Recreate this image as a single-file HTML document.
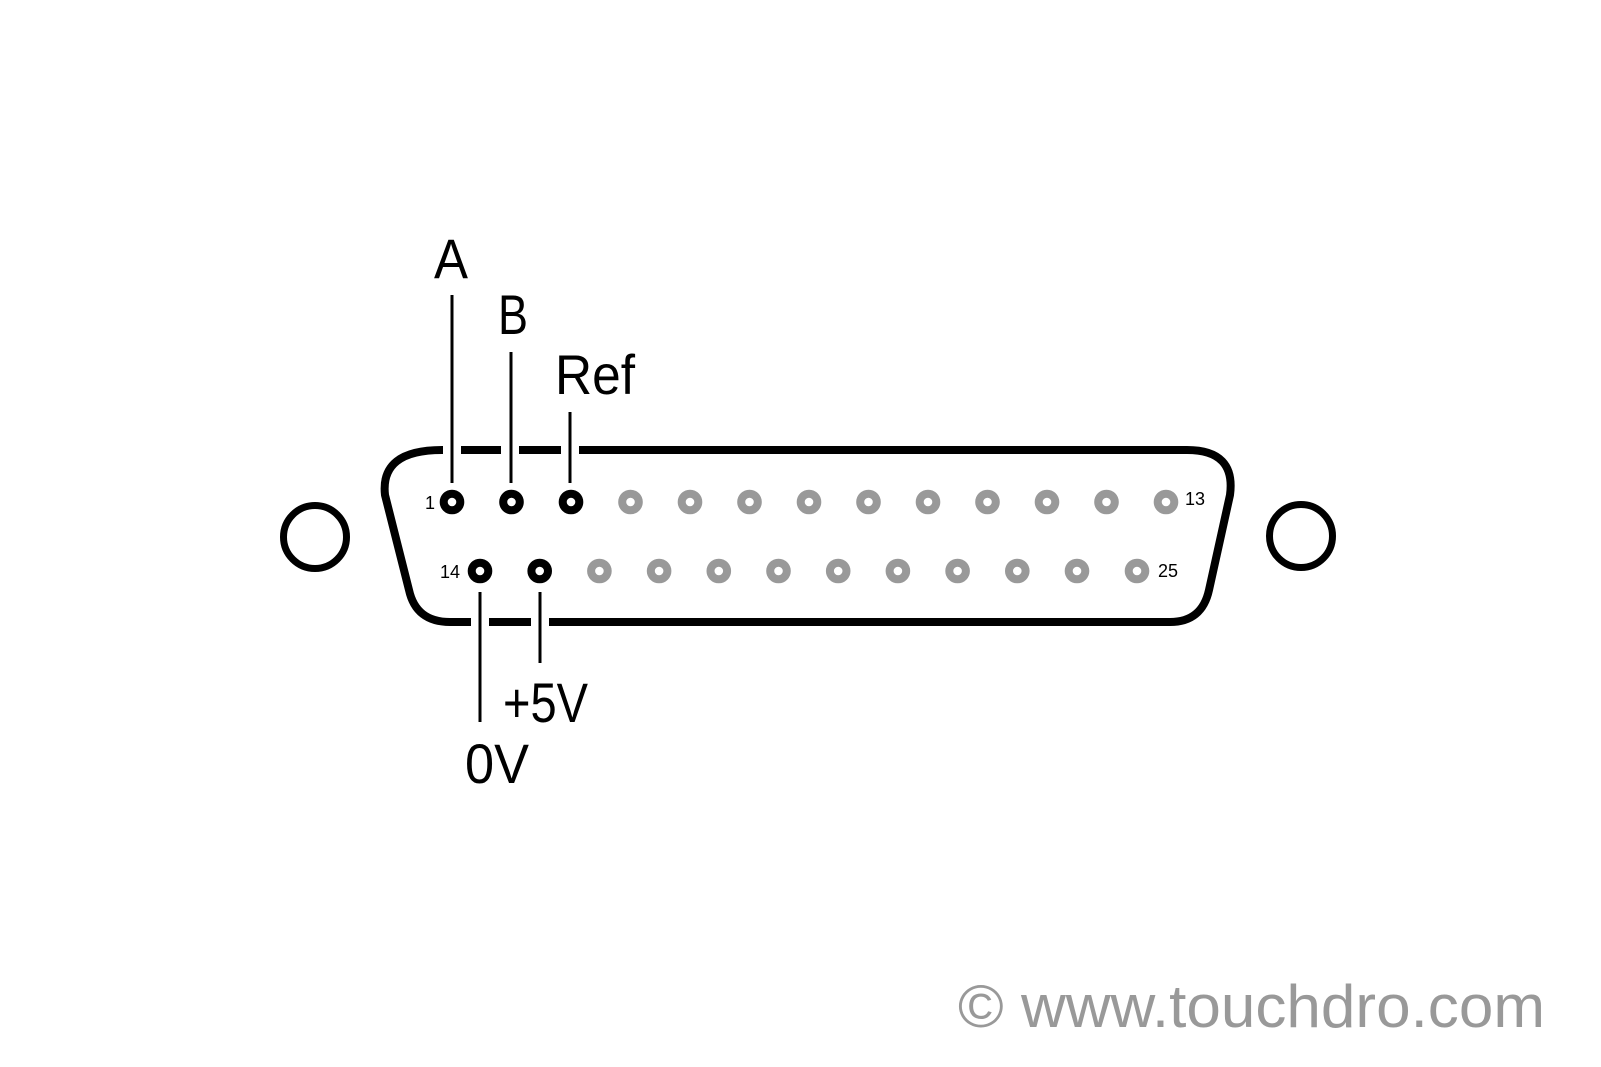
<!DOCTYPE html>
<html><head><meta charset="utf-8"><style>html,body{margin:0;padding:0;background:#fff}svg{display:block}</style></head>
<body>
<svg width="1601" height="1067" viewBox="0 0 1601 1067" xmlns="http://www.w3.org/2000/svg" font-family="Liberation Sans, sans-serif">
<rect width="1601" height="1067" fill="#fff"/>
<!-- shell -->
<path d="M442,450 L1187,450 Q1236,450 1230,495 L1209,590 Q1202,622 1170,622 L450,622 Q416,622 409,590 L385,495 Q380,450 442,450 Z" fill="none" stroke="#000" stroke-width="8" stroke-linejoin="round"/>
<!-- gaps -->
<g fill="#fff">
<rect x="443" y="444" width="18" height="12"/>
<rect x="501" y="444" width="18" height="12"/>
<rect x="561" y="444" width="18" height="12"/>
<rect x="471" y="616" width="18" height="12"/>
<rect x="531" y="616" width="18" height="12"/>
</g>
<!-- leaders -->
<g stroke="#000" stroke-width="3">
<line x1="452" y1="295" x2="452" y2="483"/>
<line x1="511" y1="352" x2="511" y2="483"/>
<line x1="570" y1="412" x2="570" y2="483"/>
<line x1="480" y1="592" x2="480" y2="722"/>
<line x1="540" y1="592" x2="540" y2="663"/>
</g>
<!-- mounting holes -->
<circle cx="315" cy="537" r="31.5" fill="none" stroke="#000" stroke-width="7"/>
<circle cx="1301" cy="536" r="31.5" fill="none" stroke="#000" stroke-width="7"/>
<!-- pins -->
<g fill="none" stroke-width="8">
<circle cx="452" cy="502" r="8.3" stroke="#000"/>
<circle cx="511.5" cy="502" r="8.3" stroke="#000"/>
<circle cx="571" cy="502" r="8.3" stroke="#000"/>
<g stroke="#999">
<circle cx="630.5" cy="502" r="8.3"/><circle cx="690" cy="502" r="8.3"/><circle cx="749.5" cy="502" r="8.3"/>
<circle cx="809" cy="502" r="8.3"/><circle cx="868.5" cy="502" r="8.3"/><circle cx="928" cy="502" r="8.3"/>
<circle cx="987.5" cy="502" r="8.3"/><circle cx="1047" cy="502" r="8.3"/><circle cx="1106.5" cy="502" r="8.3"/>
<circle cx="1166" cy="502" r="8.3"/>
</g>
<circle cx="480" cy="571" r="8.3" stroke="#000"/>
<circle cx="539.7" cy="571" r="8.3" stroke="#000"/>
<g stroke="#999">
<circle cx="599.4" cy="571" r="8.3"/><circle cx="659.1" cy="571" r="8.3"/><circle cx="718.8" cy="571" r="8.3"/>
<circle cx="778.5" cy="571" r="8.3"/><circle cx="838.2" cy="571" r="8.3"/><circle cx="897.9" cy="571" r="8.3"/>
<circle cx="957.6" cy="571" r="8.3"/><circle cx="1017.3" cy="571" r="8.3"/><circle cx="1077" cy="571" r="8.3"/>
<circle cx="1137" cy="571" r="8.3"/>
</g>
</g>
<!-- pin numbers -->
<g font-size="18" fill="#000">
<text x="425" y="509">1</text>
<text x="440" y="578">14</text>
<text x="1185" y="505">13</text>
<text x="1158" y="577">25</text>
</g>
<!-- labels -->
<g font-size="56" fill="#000">
<text x="434" y="278" textLength="34" lengthAdjust="spacingAndGlyphs">A</text>
<text x="498" y="334" textLength="30" lengthAdjust="spacingAndGlyphs">B</text>
<text x="555" y="394" textLength="80" lengthAdjust="spacingAndGlyphs">Ref</text>
<text x="503" y="722" textLength="85" lengthAdjust="spacingAndGlyphs">+5V</text>
<text x="465" y="783" textLength="64" lengthAdjust="spacingAndGlyphs">0V</text>
</g>
<text x="958" y="1027" font-size="60" fill="#999" textLength="587" lengthAdjust="spacingAndGlyphs">© www.touchdro.com</text>
</svg>
</body></html>
